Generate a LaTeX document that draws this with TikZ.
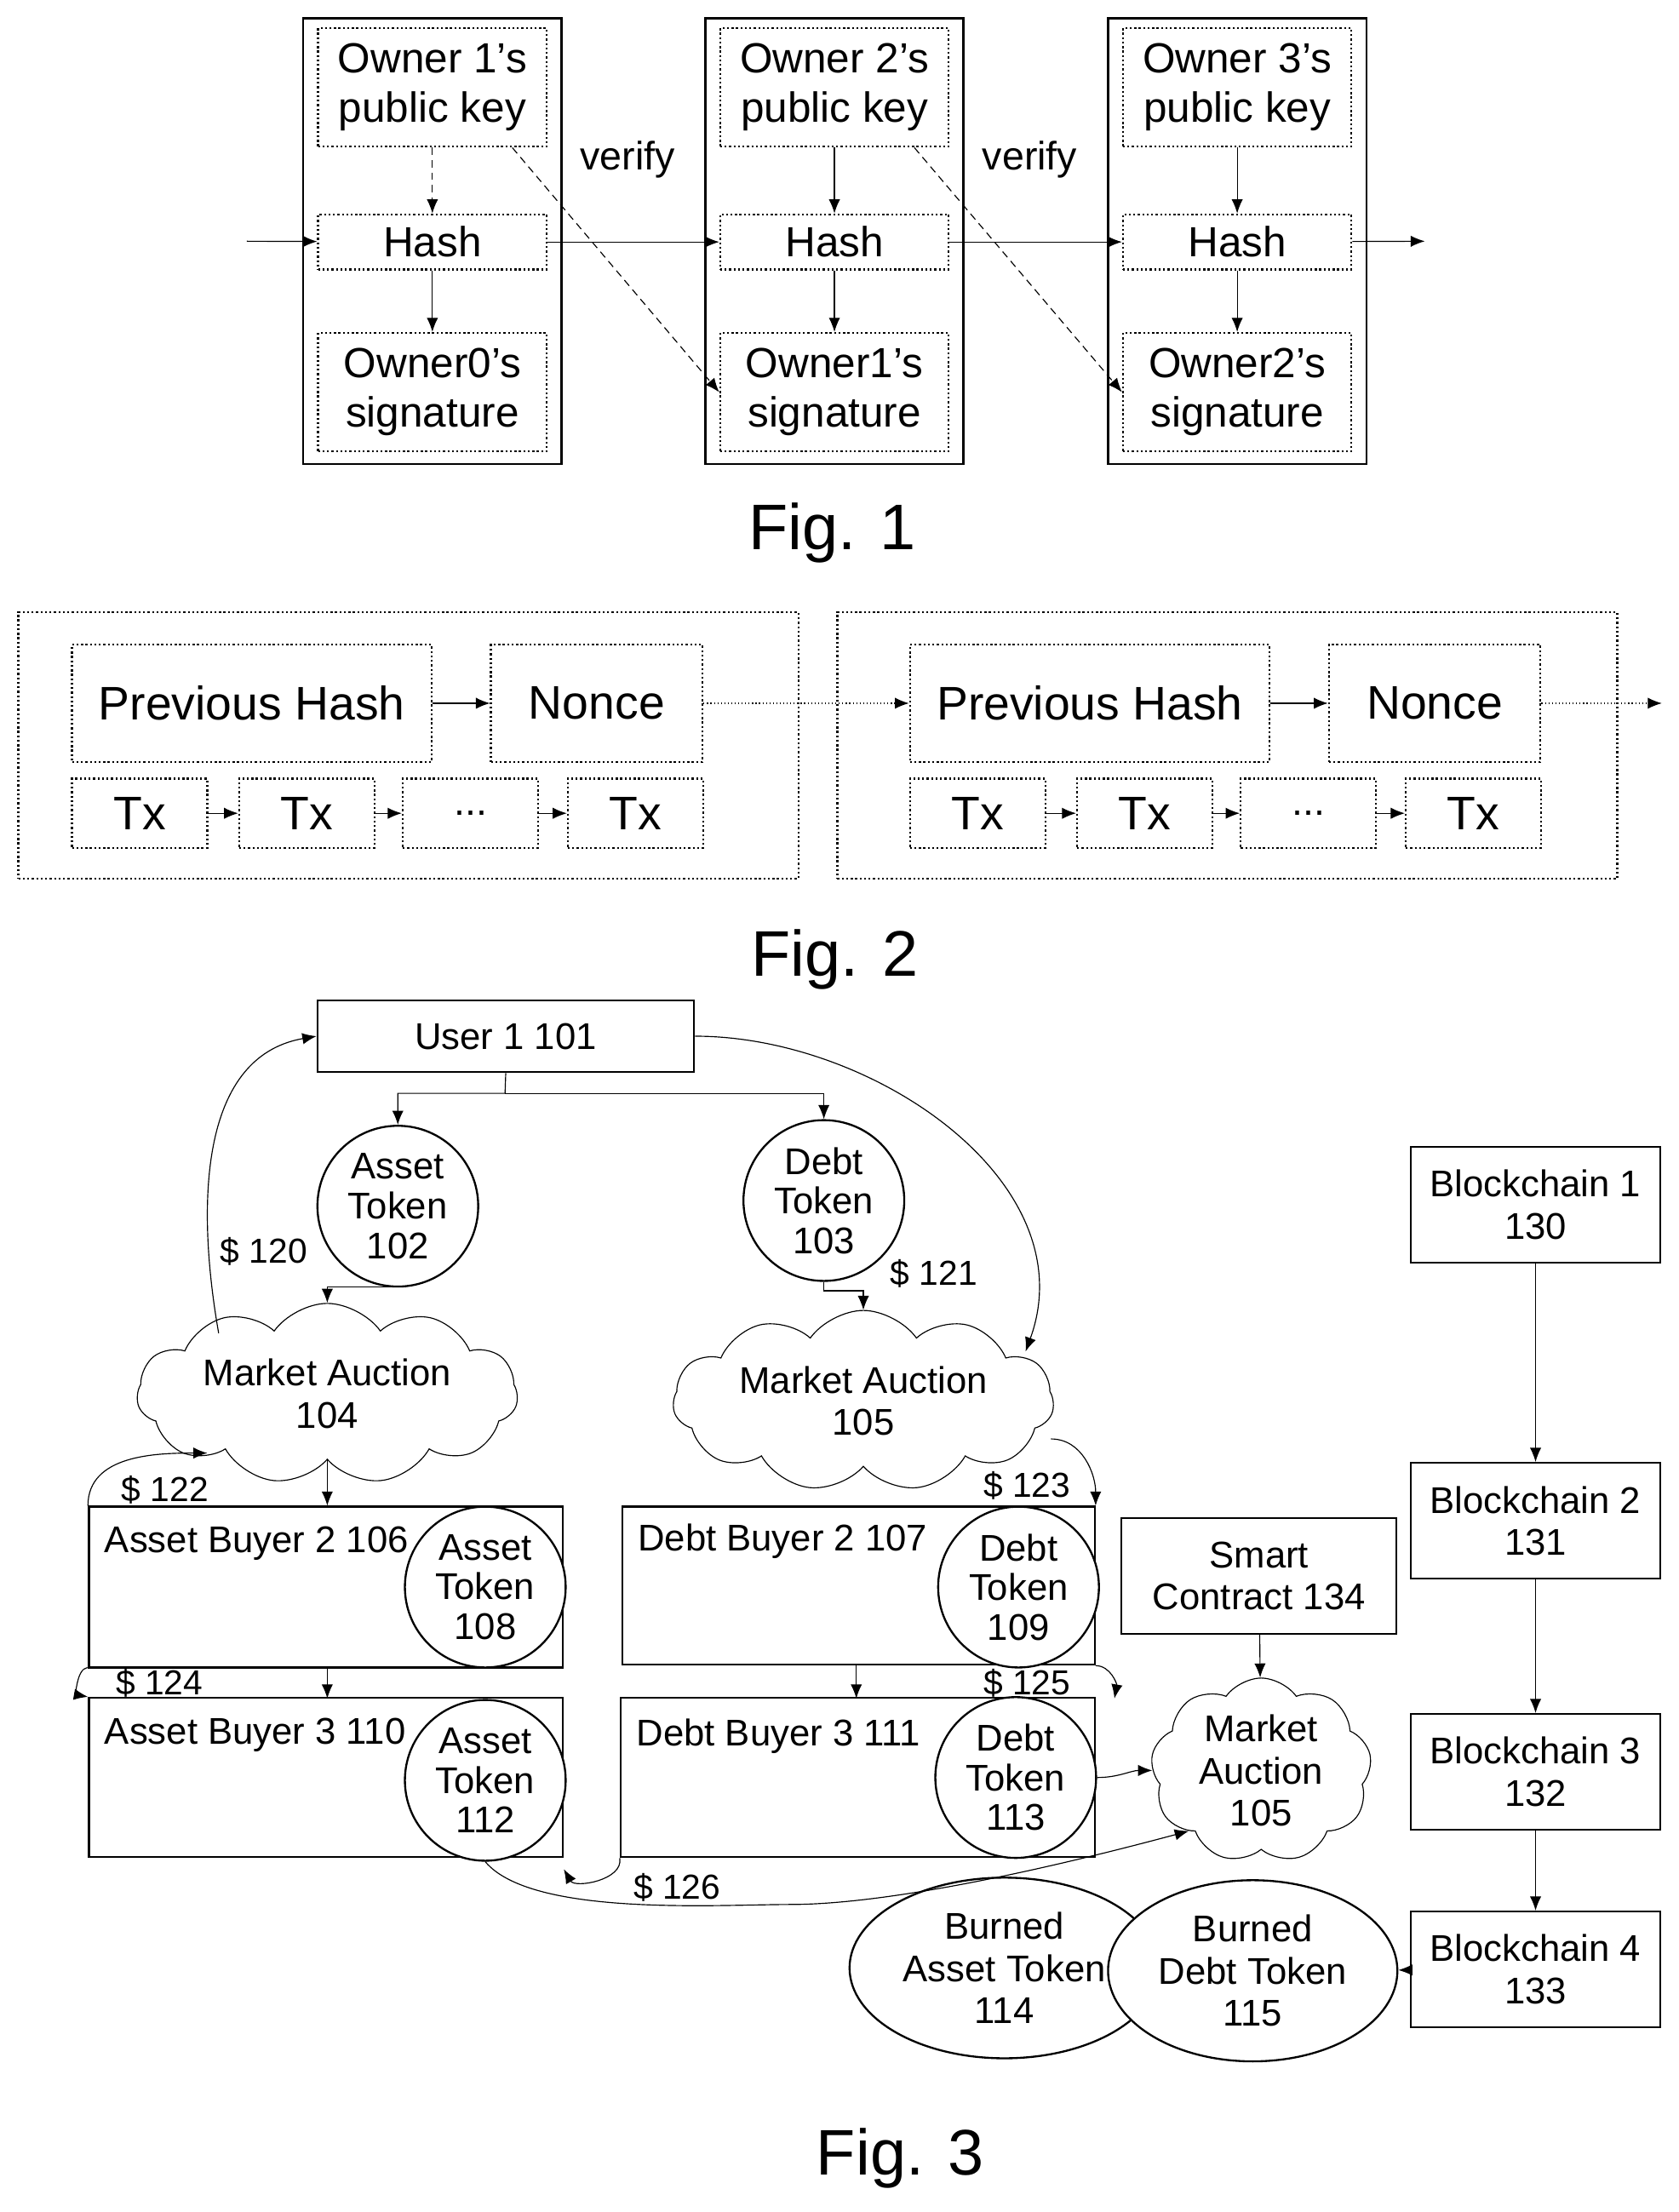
\documentclass[tikz,border=0pt]{standalone}
\usepackage{fontspec}
\setmainfont{Liberation Sans}
\usetikzlibrary{arrows.meta, shapes.symbols, shapes.geometric}

\tikzset{
  box/.style={draw, thick, rectangle, inner sep=0pt, align=center, font=\fontsize{15}{17}\selectfont},
  dbox/.style={box, densely dotted},
  circ/.style={draw, thick, circle, minimum size=2.28cm, inner sep=0pt, align=center, font=\fontsize{15}{16}\selectfont},
  cld/.style={draw, cloud, cloud puffs=11, cloud puff arc=110, aspect=2.6, inner sep=0pt, align=center, font=\fontsize{15}{17}\selectfont},
  arr/.style={-{Latex[length=2mm, width=1.6mm]}},
  lbl/.style={font=\fontsize{14}{16}\selectfont},
  figl/.style={font=\fontsize{26}{28}\selectfont}
}

\begin{document}
\begin{tikzpicture}[x=0.02cm, y=-0.02cm]
  \useasboundingbox (0, 0) rectangle (1190, 1568);

% Fig. 1
  \foreach \i/\x/\p in {1/306.5/0, 2/591.5/1, 3/877/2}{
    \node[box, minimum width=3.66cm, minimum height=6.32cm] (blk\i) at (\x, 171) {};
    \node[dbox, minimum width=3.24cm, minimum height=1.68cm, font=\fontsize{17}{20}\selectfont] (key\i) at (\x, 62) {Owner \i's\\public key};
    \node[dbox, minimum width=3.24cm, minimum height=0.78cm, font=\fontsize{17}{20}\selectfont] (hash\i) at (\x, 171.5) {Hash};
    \node[dbox, minimum width=3.24cm, minimum height=1.68cm, font=\fontsize{17}{20}\selectfont] (sig\i) at (\x, 278) {Owner\p's\\signature};
    \draw[arr] (hash\i) -- (sig\i);
  }
  \draw[arr, densely dashed] (key1) -- (hash1);
  \draw[arr] (key2) -- (hash2);
  \draw[arr] (key3) -- (hash3);
  \coordinate (in1) at (175, 171);
  \coordinate (out1) at (1010, 171);
  \draw[arr] (in1) -- (hash1);
  \draw[arr] (hash1) -- (hash2);
  \draw[arr] (hash2) -- (hash3);
  \draw[arr] (hash3) -- (out1);
  \draw[arr, densely dashed] (key1.south east) ++(-25, 0) -- (sig2.west);
  \draw[arr, densely dashed] (key2.south east) ++(-25, 0) -- (sig3.west);
  \node[lbl, font=\fontsize{16}{18}\selectfont] (ver1) at (445, 113) {verify};
  \node[lbl, font=\fontsize{16}{18}\selectfont] (ver2) at (730, 113) {verify};
  \node[figl] (fig1) at (590, 378) {Fig. 1};

% Fig. 2
  \foreach \k/\o/\c in {1/0/289.5, 2/594/870}{
    \node[dbox, minimum width=11.06cm, minimum height=3.78cm] (chain\k) at (\c, 528.5) {};
    \node[dbox, minimum width=5.1cm, minimum height=1.66cm, font=\fontsize{19}{22}\selectfont] (prev\k) at (178.5+\o, 498.5) {Previous Hash};
    \node[dbox, minimum width=3cm, minimum height=1.66cm, font=\fontsize{19}{22}\selectfont] (nonce\k) at (423+\o, 498.5) {Nonce};
    \node[dbox, minimum width=1.92cm, minimum height=0.98cm, font=\fontsize{19}{22}\selectfont] (tx\k a) at (99+\o, 576.5) {Tx};
    \node[dbox, minimum width=1.92cm, minimum height=0.98cm, font=\fontsize{19}{22}\selectfont] (tx\k b) at (217.5+\o, 576.5) {Tx};
    \node[dbox, minimum width=1.92cm, minimum height=0.98cm, font=\fontsize{16}{22}\selectfont] (tx\k c) at (333.5+\o, 576.5) {...};
    \node[dbox, minimum width=1.92cm, minimum height=0.98cm, font=\fontsize{19}{22}\selectfont] (tx\k d) at (450.5+\o, 576.5) {Tx};
    \draw[arr] (prev\k) -- (nonce\k);
    \draw[arr] (tx\k a) -- (tx\k b);
    \draw[arr] (tx\k b) -- (tx\k c);
    \draw[arr] (tx\k c) -- (tx\k d);
  }
  \coordinate (out2) at (1178, 498.5);
  \draw[arr, densely dotted] (nonce1) -- (prev2);
  \draw[arr, densely dotted] (nonce2) -- (out2);
  \node[figl] (fig2) at (592, 680) {Fig. 2};

% Fig. 3
  \node[box, minimum width=5.34cm, minimum height=1.02cm] (user) at (358.5, 734.5) {User 1 101};
  \node[circ] (at102) at (282, 855) {Asset\\Token\\102};
  \node[circ] (dt103) at (584, 851) {Debt\\Token\\103};
  \node[cld, minimum width=5.4cm, minimum height=2cm] (ma104) at (232, 988) {Market Auction\\104};
  \node[cld, minimum width=5.4cm, minimum height=2cm] (ma105) at (612, 993) {Market Auction\\105};

  \node[box, minimum width=6.72cm, minimum height=2.28cm] (ab2) at (231, 1125) {};
  \node[box, minimum width=6.7cm, minimum height=2.24cm] (db2) at (608.5, 1124) {};
  \node[box, minimum width=6.72cm, minimum height=2.26cm] (ab3) at (231, 1260) {};
  \node[box, minimum width=6.72cm, minimum height=2.26cm] (db3) at (608, 1260) {};
  \node[lbl, anchor=north west, font=\fontsize{15}{17}\selectfont] (ab2t) at (68, 1076) {Asset Buyer 2 106};
  \node[lbl, anchor=north west, font=\fontsize{15}{17}\selectfont] (db2t) at (446, 1074) {Debt Buyer 2 107};
  \node[lbl, anchor=north west, font=\fontsize{15}{17}\selectfont] (ab3t) at (68, 1212) {Asset Buyer 3 110};
  \node[lbl, anchor=north west, font=\fontsize{15}{17}\selectfont] (db3t) at (445, 1212) {Debt Buyer 3 111};
  \node[circ, fill=white] (at108) at (344, 1125) {Asset\\Token\\108};
  \node[circ, fill=white] (dt109) at (722, 1125) {Debt\\Token\\109};
  \node[circ, fill=white] (at112) at (344, 1262) {Asset\\Token\\112};
  \node[circ, fill=white] (dt113) at (720, 1260) {Debt\\Token\\113};

  \node[box, minimum width=3.9cm, minimum height=1.64cm] (sc) at (892.5, 1117) {Smart\\Contract 134};
  \node[cld, cloud puffs=9, aspect=1.3, minimum width=3cm, minimum height=2.3cm] (ma105b) at (894, 1255) {Market\\Auction\\105};

  \foreach \n/\y in {130/854, 131/1078, 132/1256, 133/1396}{
    \pgfmathtruncatemacro{\m}{\n-129}
    \node[box, minimum width=3.54cm, minimum height=1.64cm] (bc\n) at (1088.5, \y) {Blockchain \m\\\n};
  }
  \draw[arr] (bc130) -- (bc131);
  \draw[arr] (bc131) -- (bc132);
  \draw[arr] (bc132) -- (bc133);

  \node[draw, thick, ellipse, minimum width=4.12cm, minimum height=2.2cm, align=center, font=\fontsize{15}{17}\selectfont] (bat) at (712, 1395) {Burned\\Asset Token\\114};
  \node[draw, thick, ellipse, minimum width=3.8cm, minimum height=2.2cm, align=center, font=\fontsize{15}{17}\selectfont, fill=white] (bdt) at (888, 1397) {Burned\\Debt Token\\115};
  \draw[arr] (bc133) -- (bdt);

  \draw[arr] (user.south) -- (358, 775) -| (at102.north);
  \draw[arr] (358, 775) -| (dt103.north);
  \draw[arr] (at102.south) -- (282, 912) -| (ma104.north);
  \draw[arr] (dt103.south) -- (584, 915) -| (ma105.north);
  \draw[arr] (ma104.south) -- (ab2.north -| ma104.south);
  \draw[arr] (232, 1182) -- (232, 1204);
  \draw[arr] (607, 1180) -- (607, 1204);
  \draw[arr] (sc) -- (ma105b);
  \draw[arr] (dt113.east) to[out=0, in=180] (ma105b.west);

  \draw[arr] (155, 945) to[out=100, in=190] (user.west);
  \draw[arr] (user.east) to[out=0, in=70] (727, 958);
  \draw[arr] (ab2.north west) to[out=90, in=180] (147, 1030);
  \draw[arr] (745, 1020) to[out=0, in=90] (ab2.north west -| db2.north east);
  \draw[arr] (62, 1182) to[out=190, in=170] (ab3.north west);
  \draw[arr] (db2.south east) to[out=0, in=80] (790, 1204);
  \draw[arr] (at112.south) to[out=-50, in=180, looseness=0.6] (560, 1350) to[out=0, in=-165, looseness=0.7] (ma105b.south west);
  \draw[arr] (db3.south west) to[out=-80, in=-60] (ab3.east |- 0, 1325);

  \node[lbl] (p120) at (187, 887) {\$ 120};
  \node[lbl] (p121) at (662, 903) {\$ 121};
  \node[lbl] (p122) at (117, 1056) {\$ 122};
  \node[lbl] (p123) at (728, 1053) {\$ 123};
  \node[lbl] (p124) at (113, 1193) {\$ 124};
  \node[lbl] (p125) at (728, 1193) {\$ 125};
  \node[lbl] (p126) at (480, 1338) {\$ 126};
  \node[figl] (fig3) at (638, 1530) {Fig. 3};
\end{tikzpicture}
\end{document}
